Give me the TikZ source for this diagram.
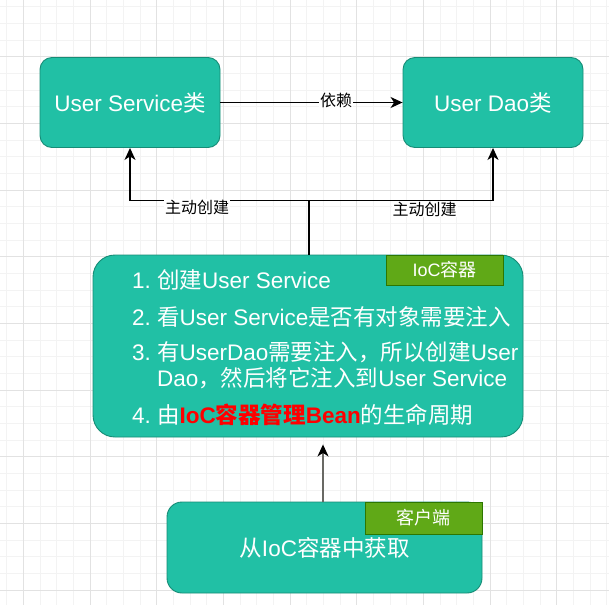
\documentclass[tikz,border=0pt]{standalone}
\usepackage{fontspec}
\setmainfont{Liberation Sans}
\newfontfamily\cjk{Noto Sans CJK SC}
\usetikzlibrary{arrows.meta}
\newcommand\zh[1]{{\cjk #1}}
\definecolor{tealfill}{RGB}{33,192,165}
\definecolor{tealline}{RGB}{22,140,118}
\definecolor{grnfill}{RGB}{96,169,23}
\definecolor{grnline}{RGB}{45,118,0}
\definecolor{gridminor}{RGB}{243,243,243}
\definecolor{gridmajor}{RGB}{226,226,226}
\definecolor{arrgray}{RGB}{105,105,100}
\begin{document}
\begin{tikzpicture}[x=1pt,y=-1pt,
  box/.style={draw=tealline, fill=tealfill, line width=0.9pt, text=white, inner sep=0pt},
  tagbox/.style={draw=grnline, fill=grnfill, line width=0.9pt, text=white, inner sep=0pt,
    font=\fontsize{18}{20}\selectfont},
  item/.style={anchor=base west, text=white, inner sep=0pt, font=\fontsize{22.5}{26}\selectfont},
  elabel/.style={fill=white, inner sep=1pt, text=black, font=\fontsize{16}{18}\selectfont\cjk},
  conn/.style={line width=1.3pt, -{Stealth[length=12pt,width=11pt,inset=3.5pt]}},
  big/.style={font=\fontsize{22.5}{26}\selectfont}
]
\useasboundingbox (0,0) rectangle (609,605);
\fill[white] (0,0) rectangle (609,605);
\begin{scope}
\clip (0,0) rectangle (609,605);
\foreach \i in {0,...,37} {
  \draw[gridminor, line width=0.8pt] (6.667+\i*16.667,0) -- (6.667+\i*16.667,605);
  \draw[gridminor, line width=0.8pt] (0,6.667+\i*16.667) -- (609,6.667+\i*16.667);
}
\foreach \i in {0,...,9} {
  \draw[gridmajor, line width=0.8pt] (23.333+\i*66.667,0) -- (23.333+\i*66.667,605);
  \draw[gridmajor, line width=0.8pt] (0,-10+\i*66.667) -- (609,-10+\i*66.667);
}
\end{scope}

% top boxes
\node[box, big, rounded corners=12pt, minimum width=180pt, minimum height=90pt] (us) at (130,102.5) {User Service\zh{类}};
\node[box, big, rounded corners=12pt, minimum width=180pt, minimum height=90pt] (ud) at (493,102.5) {User Dao\zh{类}};

% IoC container
\node[box, rounded corners=22pt, minimum width=430pt, minimum height=182pt] (ioc) at (308,346) {};
\node[tagbox, minimum width=117pt, minimum height=30pt] (ioctag) at (444.5,270) {IoC\zh{容器}};

\node[item] (n1) at (132,288) {1.};
\node[item] (t1) at (157,288) {\zh{创建}User Service};
\node[item] (n2) at (132,325) {2.};
\node[item] (t2) at (157,325) {\zh{看}User Service\zh{是否有对象需要注入}};
\node[item] (n3) at (132,360) {3.};
\node[item] (t3) at (157,360) {\zh{有}UserDao\zh{需要注入，所以创建}User};
\node[item] (t3b) at (157,386) {Dao\zh{，然后将它注入到}User Service};
\node[item] (n4) at (132,423) {4.};
\node[item] (t4) at (157,423) {\zh{由}\textcolor{red}{\bfseries IoC\zh{容器管理}Bean}\zh{的生命周期}};

% client
\node[box, big, rounded corners=15pt, minimum width=315pt, minimum height=91pt] (client) at (324.5,547.5) {\raisebox{-3.5pt}{\zh{从}IoC\zh{容器中获取}}};
\node[tagbox, minimum width=117pt, minimum height=32pt] (clienttag) at (423.5,518) {\zh{客户端}};

% connectors
\draw[conn] (us.east) -- (ud.west);
\node[elabel] (dep) at (336,100) {依赖};

\coordinate (jn) at (309,200.7);
\draw[conn] (ioc.north -| jn) -- (jn) -| (us.south);
\draw[conn] (jn) -| (ud.south);
\node[elabel] (lbl1) at (197,207) {主动创建};
\node[elabel] (lbl2) at (424.5,209) {主动创建};

\coordinate (cx) at (323,0);
\draw[line width=1.3pt, draw=arrgray, shorten >=7pt,
  -{Stealth[length=12pt,width=11pt,inset=3.5pt,color=black]}]
  (client.north -| cx) -- (ioc.south -| cx);
\end{tikzpicture}
\end{document}
